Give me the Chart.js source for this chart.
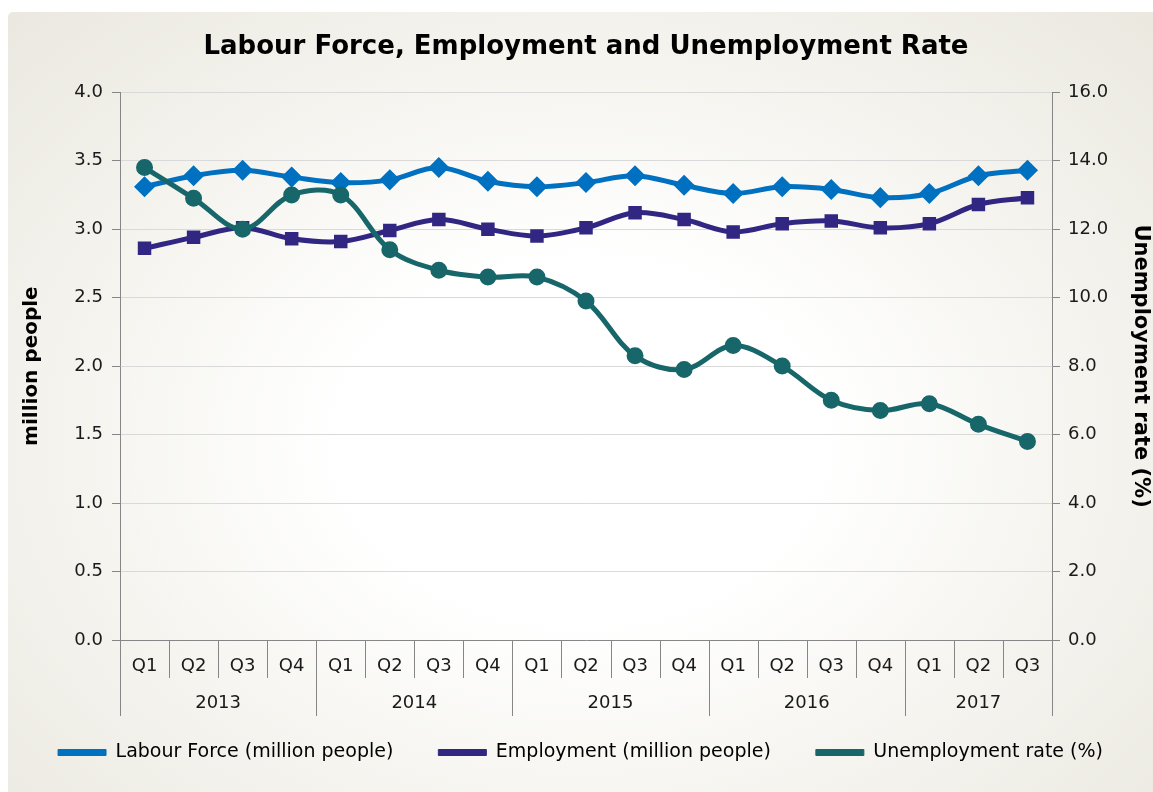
<!DOCTYPE html>
<html>
<head>
<meta charset="utf-8">
<script src="https://cdn.jsdelivr.net/npm/chart.js@4.4.1/dist/chart.umd.min.js"></script>
<style>
  html, body { margin: 0; padding: 0; background: #ffffff; }
  #wrap {
    position: absolute; left: 8px; top: 12px; width: 1145px; height: 780px;
    border-radius: 5px 0 0 0;
    background: radial-gradient(ellipse farthest-corner at 50% 55%, #ffffff 30%, #f5f4ef 62%, #eae8df 100%);
  }
</style>
</head>
<body>
<div id="wrap"><canvas id="chart" width="1145" height="780"></canvas></div>
<script>
const quarters = ['Q1', 'Q2', 'Q3', 'Q4', 'Q1', 'Q2', 'Q3', 'Q4', 'Q1', 'Q2', 'Q3', 'Q4', 'Q1', 'Q2', 'Q3', 'Q4', 'Q1', 'Q2', 'Q3'];
const years = ['2013', '2014', '2015', '2016', '2017'];
const quartersPerYear = [4, 4, 4, 4, 3];

const labourForce = [3.31, 3.39, 3.43, 3.38, 3.34, 3.36, 3.45, 3.35, 3.31, 3.34, 3.39, 3.32, 3.26, 3.31, 3.29, 3.23, 3.26, 3.39, 3.43];
const employment = [2.86, 2.94, 3.01, 2.93, 2.91, 2.99, 3.07, 3.00, 2.95, 3.01, 3.12, 3.07, 2.98, 3.04, 3.06, 3.01, 3.04, 3.18, 3.23];
const unemploymentRate = [13.8, 12.9, 12.0, 13.0, 13.0, 11.4, 10.8, 10.6, 10.6, 9.9, 8.3, 7.9, 8.6, 8.0, 7.0, 6.7, 6.9, 6.3, 5.8];

const FONT = 'DejaVu Sans, Verdana, sans-serif';
const AXIS_GREY = '#868686';
const TEXT = '#1a1a1a';
const TICK_SIZE = 18;

// quarter separators and the year row under the x axis
const yearAxisPlugin = {
  id: 'yearAxis',
  afterDraw(chart) {
    const x = chart.scales.x;
    const ctx = chart.ctx;
    const bottom = chart.chartArea.bottom;
    const half = (x.getPixelForValue(1) - x.getPixelForValue(0)) / 2;
    const yearStarts = [0];
    quartersPerYear.forEach((n, i) => yearStarts.push(yearStarts[i] + n));
    ctx.save();
    ctx.strokeStyle = AXIS_GREY;
    ctx.lineWidth = 1;
    for (let i = 0; i <= quarters.length; i++) {
      const px = Math.round(x.getPixelForValue(i) - half) + 0.5;
      const long = yearStarts.includes(i);
      ctx.beginPath();
      ctx.moveTo(px, bottom);
      ctx.lineTo(px, bottom + (long ? 76 : 38));
      ctx.stroke();
    }
    ctx.fillStyle = TEXT;
    ctx.font = TICK_SIZE + 'px ' + FONT;
    ctx.textAlign = 'center';
    ctx.textBaseline = 'middle';
    years.forEach((y, i) => {
      const a = x.getPixelForValue(yearStarts[i]);
      const b = x.getPixelForValue(yearStarts[i + 1] - 1);
      ctx.fillText(y, (a + b) / 2, bottom + 63);
    });
    ctx.restore();
  }
};

new Chart(document.getElementById('chart'), {
  type: 'line',
  data: {
    labels: quarters,
    datasets: [
      {
        label: 'Labour Force (million people)',
        data: labourForce,
        yAxisID: 'y',
        borderColor: '#0070C0',
        backgroundColor: '#0070C0',
        borderWidth: 5,
        pointStyle: 'rectRot',
        pointRadius: 7,
        pointHoverRadius: 7,
        tension: 0.35,
        order: 2
      },
      {
        label: 'Employment (million people)',
        data: employment,
        yAxisID: 'y',
        borderColor: '#312783',
        backgroundColor: '#312783',
        borderWidth: 5,
        pointStyle: 'rect',
        pointRadius: 6,
        pointHoverRadius: 6,
        tension: 0.35,
        order: 1
      },
      {
        label: 'Unemployment rate (%)',
        data: unemploymentRate,
        yAxisID: 'y1',
        borderColor: '#17666A',
        backgroundColor: '#17666A',
        borderWidth: 5,
        pointStyle: 'circle',
        pointRadius: 6,
        pointHoverRadius: 6,
        tension: 0.35,
        order: 0
      }
    ]
  },
  options: {
    responsive: false,
    animation: false,
    layout: { padding: { left: 0, right: 0, top: 0, bottom: 20 } },
    plugins: {
      title: {
        display: true,
        fullSize: false,
        text: 'Labour Force, Employment and Unemployment Rate',
        color: '#000000',
        font: { family: FONT, size: 26, weight: 'bold' },
        padding: { top: 20, bottom: 29 }
      },
      legend: {
        position: 'bottom',
        labels: {
          color: '#000000',
          font: { family: FONT, size: 19 },
          boxWidth: 48,
          boxHeight: 6,
          padding: 45,
          sort: (a, b) => a.datasetIndex - b.datasetIndex,
          generateLabels: (chart) => Chart.defaults.plugins.legend.labels.generateLabels(chart)
            .map(l => Object.assign(l, { lineWidth: 1 }))
        }
      },
      tooltip: { enabled: false }
    },
    scales: {
      x: {
        offset: true,
        grid: { display: false },
        border: { display: true, color: AXIS_GREY },
        ticks: { color: TEXT, font: { family: FONT, size: TICK_SIZE }, padding: 8, maxRotation: 0, autoSkip: false },
        afterFit: (s) => { s.height = 58; }
      },
      y: {
        position: 'left',
        min: 0,
        max: 4,
        ticks: { stepSize: 0.5, color: TEXT, font: { family: FONT, size: TICK_SIZE }, padding: 9, callback: v => v.toFixed(1) },
        grid: { color: '#d9d9d9', tickColor: AXIS_GREY, tickLength: 8 },
        border: { display: true, color: AXIS_GREY },
        title: { display: true, text: 'million people', color: '#000000', font: { family: FONT, size: 20, weight: 'bold' }, padding: { top: 12, bottom: 0 } },
        afterFit: (s) => { s.width = 112; }
      },
      y1: {
        position: 'right',
        min: 0,
        max: 16,
        ticks: { stepSize: 2, color: TEXT, font: { family: FONT, size: TICK_SIZE }, padding: 8, callback: v => v.toFixed(1) },
        grid: { drawOnChartArea: false, tickColor: AXIS_GREY, tickLength: 8 },
        border: { display: true, color: AXIS_GREY },
        title: { display: true, text: 'Unemployment rate (%)', color: '#000000', font: { family: FONT, size: 21, weight: 'bold' }, padding: { top: 0, bottom: 0 } },
        afterFit: (s) => { s.width = 101; }
      }
    }
  },
  plugins: [yearAxisPlugin]
});
</script>
</body>
</html>
